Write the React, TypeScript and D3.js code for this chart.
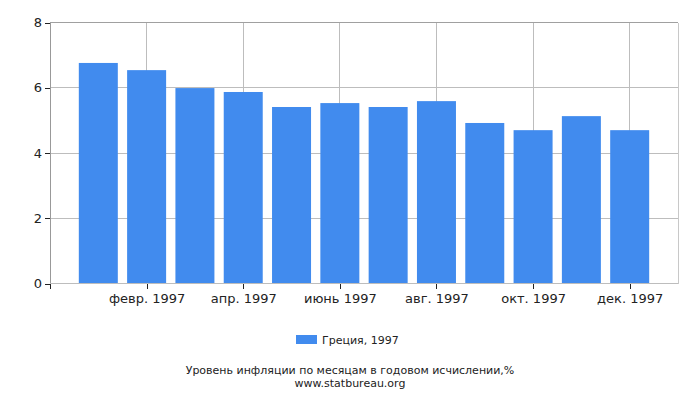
import React, { useEffect, useRef } from "react";
import * as d3 from "d3";

const months = [
  "янв. 1997",
  "февр. 1997",
  "март 1997",
  "апр. 1997",
  "май 1997",
  "июнь 1997",
  "июль 1997",
  "авг. 1997",
  "сент. 1997",
  "окт. 1997",
  "нояб. 1997",
  "дек. 1997",
];
const values = [6.76, 6.54, 5.99, 5.87, 5.41, 5.53, 5.41, 5.59, 4.92, 4.7, 5.13, 4.7];
const yTicks = [0, 2, 4, 6, 8];
const seriesName = "Греция, 1997";
const title = "Уровень инфляции по месяцам в годовом исчислении,%";
const source = "www.statbureau.org";

const W = 700;
const H = 400;
const font = "'DejaVu Sans', Verdana, sans-serif";

const App = () => {
  const svgRef = useRef<SVGSVGElement | null>(null);

  useEffect(() => {
    const svg = d3.select(svgRef.current);
    svg.selectAll("*").remove();

    const left = 50;
    const right = 678;
    const top = 22.5;
    const bottom = 283.5;

    const x = d3.scaleLinear().domain([-1, 12]).range([left, right]);
    const y = d3.scaleLinear().domain([0, 8]).range([bottom, top]);
    const barW = 39;

    // horizontal grid
    svg
      .append("g")
      .selectAll("line")
      .data(yTicks)
      .enter()
      .append("line")
      .attr("x1", left)
      .attr("x2", right)
      .attr("y1", (d) => y(d))
      .attr("y2", (d) => y(d))
      .attr("stroke", "#bdbdbd")
      .attr("shape-rendering", "crispEdges");

    // vertical grid on labelled months
    const labelled = months.map((m, i) => ({ m, i })).filter((d) => d.i % 2 === 1);
    svg
      .append("g")
      .selectAll("line")
      .data(labelled)
      .enter()
      .append("line")
      .attr("x1", (d) => x(d.i))
      .attr("x2", (d) => x(d.i))
      .attr("y1", top)
      .attr("y2", bottom)
      .attr("stroke", "#bdbdbd")
      .attr("shape-rendering", "crispEdges");

    // right border
    svg
      .append("line")
      .attr("x1", right)
      .attr("x2", right)
      .attr("y1", top)
      .attr("y2", bottom)
      .attr("stroke", "#c8c8c8")
      .attr("shape-rendering", "crispEdges");
    // top border
    svg
      .append("line")
      .attr("x1", left)
      .attr("x2", right)
      .attr("y1", top)
      .attr("y2", top)
      .attr("stroke", "#a0a0a0")
      .attr("shape-rendering", "crispEdges");

    // bars
    svg
      .append("g")
      .selectAll("rect")
      .data(values)
      .enter()
      .append("rect")
      .attr("x", (_d, i) => x(i) - barW / 2)
      .attr("width", barW)
      .attr("y", (d) => y(d))
      .attr("height", (d) => bottom - y(d))
      .attr("fill", "#418bee");

    // y axis
    const yAxis = svg
      .append("g")
      .attr("transform", `translate(${left},0)`)
      .call(d3.axisLeft(y).tickValues(yTicks).tickSize(5).tickPadding(3));
    yAxis.select(".domain").attr("stroke", "#999").attr("shape-rendering", "crispEdges");
    yAxis.selectAll(".tick line").attr("stroke", "#222").attr("shape-rendering", "crispEdges");
    yAxis
      .selectAll("text")
      .attr("font-family", font)
      .attr("font-size", 13)
      .attr("fill", "#222");

    // x axis
    const xAxis = svg
      .append("g")
      .attr("transform", `translate(0,${bottom})`)
      .call(
        d3
          .axisBottom(x)
          .tickValues([-1, ...labelled.map((d) => d.i)])
          .tickFormat((d) => (d === -1 ? "" : months[d as number]))
          .tickSize(5)
          .tickPadding(5)
      );
    xAxis.select(".domain").attr("stroke", "#bdbdbd").attr("d", `M${left},0H${right}`).attr("shape-rendering", "crispEdges");
    xAxis.selectAll(".tick line").attr("stroke", "#222").attr("shape-rendering", "crispEdges");
    xAxis
      .selectAll("text")
      .attr("font-family", font)
      .attr("font-size", 13)
      .attr("fill", "#222");

    // legend
    const lg = svg.append("g");
    lg.append("rect")
      .attr("x", 296)
      .attr("y", 335)
      .attr("width", 21)
      .attr("height", 9)
      .attr("fill", "#418bee");
    lg.append("text")
      .attr("x", 322)
      .attr("y", 344)
      .attr("font-family", font)
      .attr("font-size", 11)
      .attr("fill", "#222")
      .text(seriesName);

    svg
      .append("text")
      .attr("x", W / 2)
      .attr("y", 374)
      .attr("text-anchor", "middle")
      .attr("font-family", font)
      .attr("font-size", 11)
      .attr("fill", "#222")
      .text(title);
    svg
      .append("text")
      .attr("x", W / 2)
      .attr("y", 387)
      .attr("text-anchor", "middle")
      .attr("font-family", font)
      .attr("font-size", 11)
      .attr("fill", "#222")
      .text(source);
  }, []);

  return (
    <svg
      ref={svgRef}
      width={W}
      height={H}
      style={{ position: "absolute", left: 0, top: 0, background: "#fff" }}
    />
  );
};

export default App;
